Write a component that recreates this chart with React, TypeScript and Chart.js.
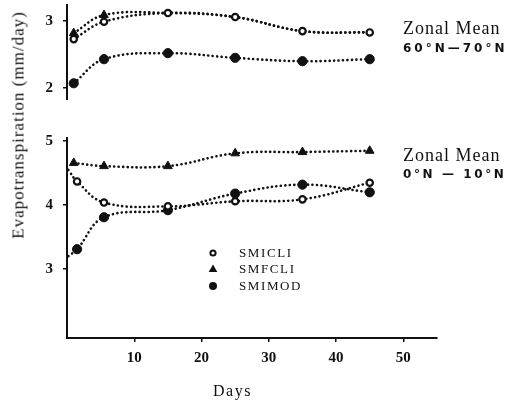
import React, { useEffect, useRef } from 'react';
import { Chart, registerables } from 'chart.js';

Chart.register(...registerables);

// ---- data ----
const daysTop = [1, 5.5, 15, 25, 35, 45];
const daysBottom = [1.5, 5.5, 15, 25, 35, 45];
const daysBottomTri = [1, 5.5, 15, 25, 35, 45];

const topSMICLI = [2.73, 2.99, 3.12, 3.06, 2.85, 2.83];
const topSMFCLI = [2.82, 3.09, 3.12, 3.06, 2.85, 2.83];
const topSMIMOD = [2.07, 2.43, 2.52, 2.45, 2.4, 2.43];

const bottomSMICLI = [4.37, 4.04, 3.98, 4.06, 4.09, 4.35];
const bottomSMFCLI = [4.66, 4.61, 4.61, 4.81, 4.83, 4.85];
const bottomSMIMOD = [3.31, 3.81, 3.92, 4.18, 4.32, 4.2];

// curve start at the axis (no marker)
const leadDay = 0.2;
const leadSMICLI = 4.55;
const leadSMIMOD = 3.2;

const topYTicks = [2, 3];
const bottomYTicks = [3, 4, 5];
const xTicks = [10, 20, 30, 40, 50];
const seriesNames = ['SMICLI', 'SMFCLI', 'SMIMOD'];

const INK = '#111';
const tickFont = { family: '"Liberation Serif", "Times New Roman", serif', size: 15, weight: 'bold' as const };

const pts = (xs: number[], ys: number[]) => xs.map((x, i) => ({ x, y: ys[i] }));

const lineBase = {
  borderColor: INK,
  borderWidth: 2.6,
  borderDash: [0.1, 4.4],
  borderCapStyle: 'round' as const,
  tension: 0.4,
  fill: false,
  clip: false as const,
  pointBorderColor: INK,
};

const openCircle = { ...lineBase, pointStyle: 'circle', pointRadius: 3.2, pointBorderWidth: 2.2, pointBackgroundColor: '#fff' };
const triangle = { ...lineBase, pointStyle: 'triangle', pointRadius: 5, pointBorderWidth: 1, pointBackgroundColor: INK };
const filledCircle = { ...lineBase, pointStyle: 'circle', pointRadius: 4.6, pointBorderWidth: 1, pointBackgroundColor: INK };

const noEdgePadding = (s: any) => {
  s.paddingTop = 0;
  s.paddingBottom = 0;
  s.paddingLeft = 0;
  s.paddingRight = 0;
};

const yAxis = (min: number, max: number, ticks: number[]) => ({
  type: 'linear' as const,
  min,
  max,
  afterBuildTicks: (s: any) => { s.ticks = ticks.map((v) => ({ value: v })); },
  afterFit: (s: any) => { s.width = 67; noEdgePadding(s); },
  grid: { display: true, drawOnChartArea: false, drawTicks: true, tickLength: 4, color: INK, lineWidth: 1.5 },
  border: { display: true, color: INK, width: 2 },
  ticks: { color: INK, font: tickFont, padding: 10 },
});

const legendPlugin = {
  id: 'seriesLegend',
  afterDraw(chart: any) {
    const ctx = chart.ctx as CanvasRenderingContext2D;
    const left = chart.chartArea.left;
    const top = chart.chartArea.top;
    const mx = left + 146;
    const tx = left + 172;
    const rows = [top + 115, top + 131, top + 148];
    ctx.save();
    ctx.fillStyle = INK;
    ctx.strokeStyle = INK;
    // open circle
    ctx.lineWidth = 2;
    ctx.beginPath();
    ctx.arc(mx, rows[0], 2.6, 0, Math.PI * 2);
    ctx.stroke();
    // triangle
    ctx.beginPath();
    ctx.moveTo(mx, rows[1] - 4.5);
    ctx.lineTo(mx + 4.3, rows[1] + 3);
    ctx.lineTo(mx - 4.3, rows[1] + 3);
    ctx.closePath();
    ctx.fill();
    // filled circle
    ctx.beginPath();
    ctx.arc(mx, rows[2], 4, 0, Math.PI * 2);
    ctx.fill();
    ctx.font = '13px "Liberation Serif", "Times New Roman", serif';
    (ctx as any).letterSpacing = '1.6px';
    ctx.textBaseline = 'middle';
    ctx.textAlign = 'left';
    seriesNames.forEach((n, i) => ctx.fillText(n, tx, rows[i] + 1));
    ctx.restore();
  },
};

export default function App() {
  const topRef = useRef<HTMLCanvasElement>(null);
  const botRef = useRef<HTMLCanvasElement>(null);

  useEffect(() => {
    const common = {
      responsive: false,
      maintainAspectRatio: false,
      animation: false as const,
      devicePixelRatio: 1,
      events: [] as any[],
    };

    const topChart = new Chart(topRef.current!, {
      type: 'line',
      data: {
        datasets: [
          { ...openCircle, label: 'SMICLI', data: pts(daysTop, topSMICLI) },
          {
            ...triangle,
            label: 'SMFCLI',
            data: pts(daysTop, topSMFCLI),
            pointRadius: (c: any) => (c.dataIndex < 2 ? 5 : 0),
          },
          { ...filledCircle, label: 'SMIMOD', data: pts(daysTop, topSMIMOD) },
        ] as any,
      },
      options: {
        ...common,
        layout: { autoPadding: false, padding: { top: 5, right: 74, bottom: 0, left: 0 } },
        plugins: { legend: { display: false }, tooltip: { enabled: false } },
        scales: {
          x: { type: 'linear', min: 0, max: 55, display: false },
          y: yAxis(1.82, 3.24, topYTicks),
        },
      } as any,
    });

    const botChart = new Chart(botRef.current!, {
      type: 'line',
      data: {
        datasets: [
          {
            ...openCircle,
            label: 'SMICLI',
            data: [{ x: leadDay, y: leadSMICLI }, ...pts(daysBottom, bottomSMICLI)],
            pointRadius: (c: any) => (c.dataIndex === 0 ? 0 : 3.2),
          },
          { ...triangle, label: 'SMFCLI', data: pts(daysBottomTri, bottomSMFCLI) },
          {
            ...filledCircle,
            label: 'SMIMOD',
            data: [{ x: leadDay, y: leadSMIMOD }, ...pts(daysBottom, bottomSMIMOD)],
            pointRadius: (c: any) => (c.dataIndex === 0 ? 0 : 4.6),
          },
        ] as any,
      },
      options: {
        ...common,
        layout: { autoPadding: false, padding: { top: 18, right: 74, bottom: 0, left: 0 } },
        plugins: { legend: { display: false }, tooltip: { enabled: false } },
        scales: {
          x: {
            type: 'linear',
            min: 0,
            max: 55,
            afterBuildTicks: (s: any) => { s.ticks = xTicks.map((v) => ({ value: v })); },
            afterFit: (s: any) => { s.height = 62; noEdgePadding(s); },
            grid: { display: true, drawOnChartArea: false, drawTicks: true, tickLength: 4, color: INK, lineWidth: 1.5 },
            border: { display: true, color: INK, width: 2 },
            ticks: { color: INK, font: tickFont, padding: 7, maxRotation: 0 },
          },
          y: yAxis(1.92, 5.05, bottomYTicks),
        },
      } as any,
      plugins: [legendPlugin],
    });

    return () => {
      topChart.destroy();
      botChart.destroy();
    };
  }, []);

  const serif = '"Liberation Serif", "Times New Roman", serif';
  const sans = '"DejaVu Sans", sans-serif';
  const abs = (left: number, top: number): React.CSSProperties => ({
    position: 'absolute',
    left,
    top,
    whiteSpace: 'nowrap',
    color: INK,
  });

  return (
    <div style={{ position: 'absolute', left: 0, top: 0, width: 511, height: 400, background: '#fff', overflow: 'hidden' }}>
      <canvas ref={topRef} width={511} height={100} style={{ position: 'absolute', left: 0, top: 0 }} />
      <canvas ref={botRef} width={511} height={280} style={{ position: 'absolute', left: 0, top: 120 }} />

      <div style={{ ...abs(403, 19), font: `18px/18px ${serif}`, letterSpacing: '1px' }}>Zonal Mean</div>
      <div style={{ ...abs(403, 42), font: `bold 12px/12px ${sans}`, letterSpacing: '3px' }}>60°N—70°N</div>

      <div style={{ ...abs(403, 146), font: `18px/18px ${serif}`, letterSpacing: '1px' }}>Zonal Mean</div>
      <div style={{ ...abs(403, 168), font: `bold 12px/12px ${sans}`, letterSpacing: '2.6px' }}>0°N — 10°N</div>

      <div style={{ ...abs(213, 383), font: `16px/16px ${serif}`, letterSpacing: '1.5px' }}>Days</div>

      <div
        style={{
          position: 'absolute',
          left: 18,
          top: 125,
          transform: 'translate(-50%, -50%) rotate(-90deg)',
          font: `17px/17px ${serif}`,
          letterSpacing: '1px',
          whiteSpace: 'nowrap',
          color: INK,
        }}
      >
        Evapotranspiration (mm/day)
      </div>
    </div>
  );
}
